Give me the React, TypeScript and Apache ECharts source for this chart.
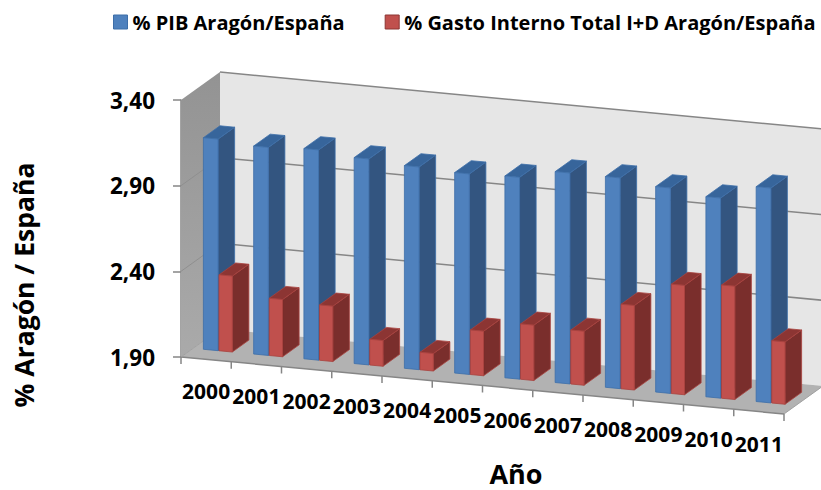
import React, { useEffect, useRef } from "react";
import * as echarts from "echarts";

const categories = ["2000","2001","2002","2003","2004","2005","2006","2007","2008","2009","2010","2011"];
const pibValues = [3.135,3.114,3.127,3.102,3.083,3.07,3.078,3.131,3.13,3.099,3.068,3.154];
const gastoValues = [2.343,2.234,2.223,2.05,2.002,2.16,2.223,2.215,2.393,2.538,2.561,2.264];
const yTicks = [1.9,2.4,2.9,3.4];
const pibName = "% PIB Aragón/España";
const gastoName = "% Gasto Interno Total I+D Aragón/España";
const yTitle = "% Aragón / España";
const xTitle = "Año";

const FONT = "'Open Sans', Lato, sans-serif";
const SLOPE = 0.0945;
const DEPTH_X = 39;
const DEPTH_Y = 28;
const GRID = "#868686";

function App() {
  const ref = useRef<HTMLDivElement>(null);
  useEffect(() => {
    const chart = echarts.init(ref.current!, undefined, { renderer: "svg" });

    const project = (cs: any, x: number, y: number, d: number) => [
      x + d * DEPTH_X,
      y + (x - cs.x) * SLOPE - d * DEPTH_Y,
    ];

    const wallRender = (params: any, api: any) => {
      const cs = params.coordSys;
      if (params.dataIndex !== 0) return null;
      const l = cs.x, r = cs.x + cs.width;
      const t = api.coord([0, yTicks[yTicks.length - 1]])[1];
      const b = api.coord([0, yTicks[0]])[1];
      const poly = (pts: number[][], style: any) => ({ type: "polygon", silent: true, shape: { points: pts }, style });
      const line = (a: number[], c: number[], stroke: string, lineWidth: number) => ({
        type: "line", silent: true,
        shape: { x1: a[0], y1: a[1], x2: c[0], y2: c[1] },
        style: { stroke, lineWidth },
      });
      const children: any[] = [
        poly([project(cs,l,t,1),project(cs,r,t,1),project(cs,r,b,1),project(cs,l,b,1)], { fill: "#e6e6e6" }),
        poly([project(cs,l,t,0),project(cs,l,t,1),project(cs,l,b,1),project(cs,l,b,0)], {
          fill: new echarts.graphic.LinearGradient(0,0,0,1,[{offset:0,color:"#939393"},{offset:1,color:"#aaaaaa"}]),
        }),
        poly([project(cs,l,b,0),project(cs,l,b,1),project(cs,r,b,1),project(cs,r,b,0)], { fill: "#b2b2b2" }),
      ];
      yTicks.forEach((v, i) => {
        const y = api.coord([0, v])[1];
        if (i > 0) {
          children.push(line(project(cs,l,y,1), project(cs,r,y,1), GRID, 1.5));
          if (i < yTicks.length - 1) children.push(line(project(cs,l,y,0), project(cs,l,y,1), "#8f8f8f", 1));
        }
      });
      children.push(line(project(cs,l,b,0), project(cs,r,b,0), GRID, 1.5));
      children.push(line(project(cs,l,b,0), project(cs,l,b,1), "#a0a0a0", 1));
      children.push(line(project(cs,r,b,0), project(cs,r,b,1), "#a0a0a0", 1));
      const bw = api.size([1, 0])[0];
      for (let i = 0; i <= categories.length; i++) {
        const p = project(cs, l + i * bw, b, 0);
        children.push(line(p, [p[0], p[1] + 7], GRID, 1.5));
      }
      return { type: "group", children };
    };

    const barRender = (u0: number, u1: number, front: string, stroke: string, top: string, side: string) => (params: any, api: any) => {
      const cs = params.coordSys;
      const idx = api.value(0);
      const val = api.value(1);
      const bw = api.size([1, 0])[0];
      const left = api.coord([idx, val])[0] - bw / 2;
      const x0 = left + u0 * bw, x1 = left + u1 * bw;
      const yT = api.coord([idx, val])[1];
      const yB = api.coord([idx, yTicks[0]])[1];
      const d0 = 0.31, d1 = 0.735;
      const P = (x: number, y: number, d: number) => project(cs, x, y, d);
      const poly = (pts: number[][], fill: string) => ({
        type: "polygon", silent: true, shape: { points: pts },
        style: { fill, stroke, lineWidth: 0.8 },
      });
      return {
        type: "group",
        children: [
          poly([P(x1,yT,d0),P(x1,yT,d1),P(x1,yB,d1),P(x1,yB,d0)], side),
          poly([P(x0,yT,d0),P(x0,yT,d1),P(x1,yT,d1),P(x1,yT,d0)], top),
          poly([P(x0,yT,d0),P(x1,yT,d0),P(x1,yB,d0),P(x0,yB,d0)], front),
        ],
      };
    };

    const labelRender = (params: any, api: any) => {
      const cs = params.coordSys;
      const idx = api.value(0);
      const c = api.coord([idx, yTicks[0]]);
      const p = project(cs, c[0], c[1], 0);
      return {
        type: "text", silent: true, x: p[0], y: p[1] + 32,
        style: { text: categories[idx], fill: "#000", font: `bold 21px ${FONT}`, align: "center", verticalAlign: "middle" },
      };
    };

    const option: any = {
      animation: false,
      backgroundColor: "#ffffff",
      grid: { left: 181, top: 100, width: 603, height: 257, containLabel: false },
      xAxis: { type: "category", data: categories, axisLine: { show: false }, axisTick: { show: false }, axisLabel: { show: false }, splitLine: { show: false } },
      yAxis: {
        type: "value", min: yTicks[0], max: yTicks[yTicks.length - 1],
        splitLine: { show: false },
        axisLine: { show: true, lineStyle: { color: GRID, width: 1.5 } },
        axisTick: { show: true, length: 8, customValues: yTicks, lineStyle: { color: GRID, width: 1.5 } },
        axisLabel: {
          customValues: yTicks, margin: 26, color: "#000",
          fontFamily: FONT, fontWeight: "bold", fontSize: 22.5,
          formatter: (v: number) => v.toFixed(2).replace(".", ","),
        },
      },
      legend: {
        left: 113, top: 12, padding: 0, itemWidth: 14, itemHeight: 14, itemGap: 40,
        icon: "rect", selectedMode: false,
        textStyle: { fontFamily: FONT, fontWeight: "bold", fontSize: 20, color: "#000" },
        data: [
          { name: pibName, itemStyle: { color: "#4F81BD", borderColor: "#3d6ea8", borderWidth: 1 } },
          { name: gastoName, itemStyle: { color: "#C0504D", borderColor: "#8c3533", borderWidth: 1 } },
        ],
      },
      graphic: [
        { type: "text", x: 24, y: 285, rotation: Math.PI / 2, silent: true,
          style: { text: yTitle, fill: "#000", font: `bold 26.5px ${FONT}`, align: "center", verticalAlign: "middle" } },
        { type: "text", x: 516, y: 473, silent: true,
          style: { text: xTitle, fill: "#000", font: `bold 27px ${FONT}`, align: "center", verticalAlign: "middle" } },
      ],
      series: [
        { type: "custom", name: "walls", z: 1, silent: true, renderItem: wallRender, encode: { x: 0, y: 1 }, data: categories.map((c) => [c, yTicks[0]]) },
        { type: "custom", name: pibName, z: 2, silent: true, itemStyle: { color: "#4F81BD" }, renderItem: barRender(0.205, 0.497, "#4F81BD", "#3d6ea8", "#37659b", "#335580"), encode: { x: 0, y: 1 }, data: categories.map((c, i) => [c, pibValues[i]]) },
        { type: "custom", name: gastoName, z: 3, silent: true, itemStyle: { color: "#C0504D" }, renderItem: barRender(0.515, 0.78, "#C0504D", "#a8413e", "#8c3533", "#7A2E2C"), encode: { x: 0, y: 1 }, data: categories.map((c, i) => [c, gastoValues[i]]) },
        { type: "custom", name: "labels", z: 4, silent: true, renderItem: labelRender, encode: { x: 0, y: 1 }, data: categories.map((c) => [c, yTicks[0]]) },
      ],
    };
    chart.setOption(option);
    return () => chart.dispose();
  }, []);
  return <div ref={ref} style={{ position: "fixed", left: 0, top: 0, width: 821, height: 490 }} />;
}

export default App;
